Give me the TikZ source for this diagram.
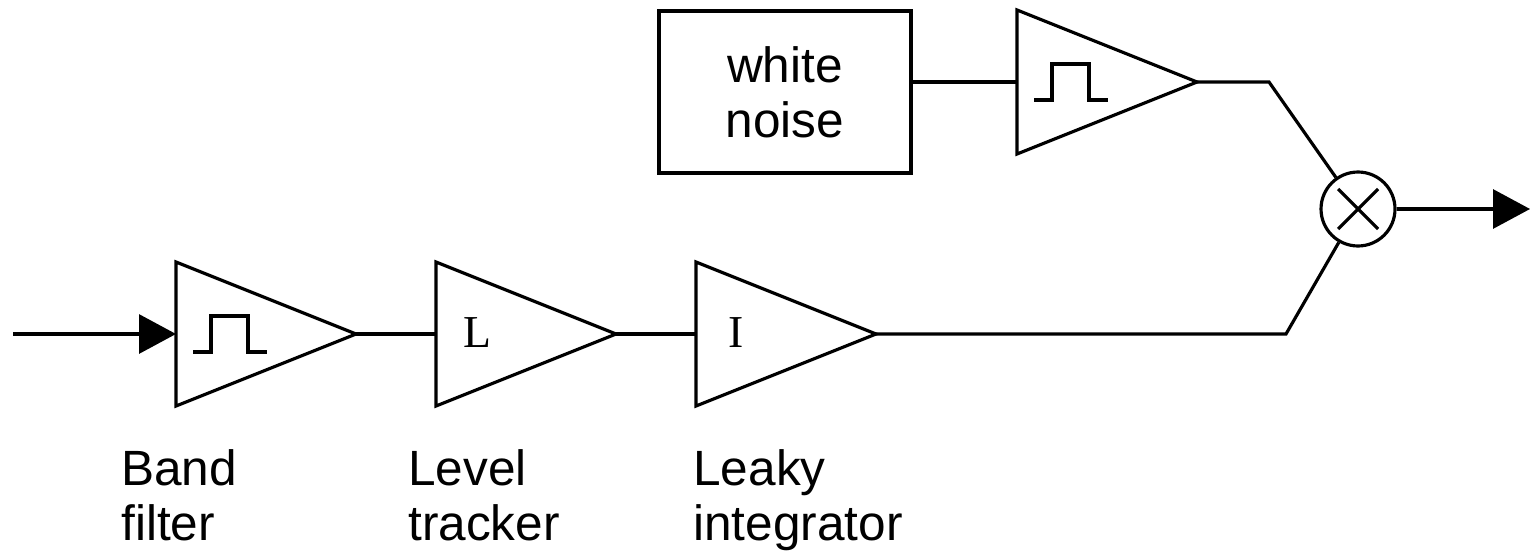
\documentclass[tikz,border=0pt]{standalone}
\usepackage{fontspec}
\setmainfont{Liberation Serif}
\newfontfamily\labelfont{Liberation Sans}
\usetikzlibrary{arrows.meta,calc}

% one unit = one pixel of a 1530 x 554 canvas, y growing downwards
\tikzset{
  x=0.02cm, y=-0.02cm,
  wire/.style={line width=1.8pt, line join=miter},
  sig/.style={wire, -{Triangle[length=0.74cm,width=0.78cm]}},
  txt/.style={font=\labelfont\fontsize{28.2}{31.2}\selectfont},
  lbl/.style={txt, align=left, anchor=base west, inner sep=0pt},
  glyph/.style={font=\fontsize{26}{26}\selectfont, inner sep=0pt},
  blockbox/.style={wire, draw, rectangle, txt, align=center,
    minimum width=5.04cm, minimum height=3.24cm, inner sep=0pt},
  mixer/.style={wire, draw, circle, minimum size=1.48cm, inner sep=0pt},
}

% amplifier triangle: name, left x, axis y
\newcommand\ampstage[3]{%
  \coordinate (#1-in) at (#2,#3);
  \coordinate (#1-out) at ({#2+180},#3);
  \draw[wire] (#2,{#3-72}) -- (#1-out) -- (#2,{#3+72}) -- cycle;
}
% band-pass pulse sketch inside a triangle
\newcommand\pulsemark[1]{%
  \draw[wire] ($(#1-in)+(17,18)$) -- ++(18,0) -- ++(0,-36) -- ++(37,0)
    -- ++(0,36) -- ++(19,0);
}

\begin{document}
\begin{tikzpicture}
  \useasboundingbox (0,0) rectangle (1530,554);

  % lower chain
  \ampstage{bf}{176}{334}
  \pulsemark{bf}
  \ampstage{lt}{436}{334}
  \node[glyph] (ltL) at (477,333) {L};
  \ampstage{li}{696}{334}
  \node[glyph] (liI) at (736,333) {I};

  % upper chain
  \node[blockbox] (wn) at (785,92) {white\\noise};
  \ampstage{nf}{1017}{82}
  \pulsemark{nf}

  % multiplier
  \node[mixer] (mx) at (1358,209) {};
  \draw[wire] ($(mx.center)+(-20,-20)$) -- ($(mx.center)+(20,20)$);
  \draw[wire] ($(mx.center)+(-20,20)$) -- ($(mx.center)+(20,-20)$);

  % connectors
  \coordinate (src) at (13,334);
  \coordinate (sink) at (1530,209);
  \coordinate (kneeA) at (1269,82);
  \coordinate (kneeB) at (1286,334);

  \draw[sig] (src) -- (bf-in);
  \draw[wire] (bf-out) -- (lt-in);
  \draw[wire] (lt-out) -- (li-in);
  \draw[wire] (wn.east |- nf-in) -- (nf-in);
  \draw[wire] (nf-out) -- (kneeA) -- (mx);
  \draw[wire] (li-out) -- (kneeB) -- (mx);
  \draw[sig] (mx) -- (sink);

  % captions (anchored on the baseline of the second line)
  \node[lbl] (capbf) at (121,540) {Band\\filter};
  \node[lbl] (caplt) at (408,540) {Level\\tracker};
  \node[lbl] (capli) at (693,540) {Leaky\\integrator};
\end{tikzpicture}
\end{document}
